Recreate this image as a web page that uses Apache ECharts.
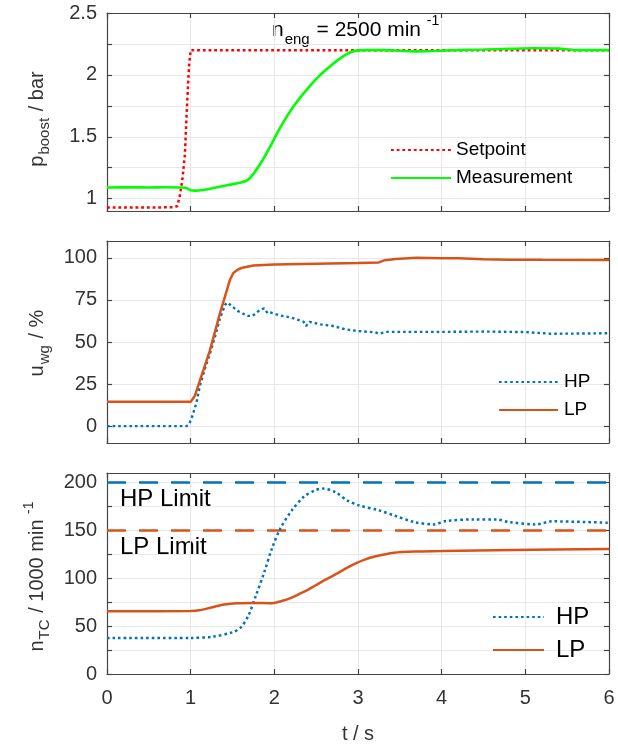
<!DOCTYPE html>
<html>
<head>
<meta charset="utf-8">
<title>Boost pressure, wastegate and turbocharger speed response</title>
<script src="https://cdn.jsdelivr.net/npm/echarts@6/dist/echarts.min.js"></script>
<style>
  html, body { margin: 0; padding: 0; background: #fff; }
  #chart { width: 618px; height: 745px; }
</style>
</head>
<body>
<div id="chart"></div>
<script>
// ---- Boost pressure (bar) ----
const tSetpoint = [0, 0.4, 0.8, 0.84, 0.87, 0.9, 0.93, 0.96, 0.98, 1.0, 2.0, 3.0, 4.0, 5.0, 6.0];
const pSetpoint = [0.928, 0.928, 0.93, 0.94, 1.02, 1.15, 1.35, 1.8, 2.07, 2.2, 2.2, 2.2, 2.2, 2.2, 2.2];

const tMeasure = [0, 0.3, 0.5, 0.7, 0.9, 0.95, 1.0, 1.05, 1.15, 1.3, 1.45, 1.6, 1.68, 1.75, 1.85, 1.95,
  2.05, 2.15, 2.25, 2.35, 2.45, 2.55, 2.65, 2.75, 2.85, 2.95, 3.1, 3.3, 3.5, 3.7, 3.9, 4.2, 4.5,
  4.8, 5.1, 5.4, 5.6, 6.0];
const pMeasure = [1.09, 1.092, 1.09, 1.092, 1.09, 1.085, 1.068, 1.065, 1.07, 1.09, 1.11, 1.13, 1.15, 1.2,
  1.3, 1.42, 1.55, 1.665, 1.765, 1.85, 1.93, 2.0, 2.06, 2.115, 2.162, 2.192, 2.2, 2.2, 2.195, 2.19,
  2.193, 2.2, 2.205, 2.21, 2.215, 2.212, 2.2, 2.2];

// ---- Wastegate positions (%) ----
const tWgHP = [0, 0.95, 0.98, 1.02, 1.07, 1.11, 1.17, 1.23, 1.29, 1.35, 1.41, 1.44, 1.5, 1.56, 1.62,
  1.68, 1.74, 1.8, 1.85, 1.88, 1.92, 1.96, 2.05, 2.2, 2.35, 2.38, 2.42, 2.55, 2.7, 2.85, 3.0, 3.2,
  3.25, 3.35, 3.7, 4.0, 4.5, 5.0, 5.3, 5.6, 6.0];
const uWgHP = [0, 0, 1, 6, 14, 24, 34, 43, 53, 64, 72, 73.5, 71, 68.5, 67, 65.5, 65.5, 68, 69.5, 70,
  67, 67.5, 66, 64.5, 62, 59.5, 62, 60.5, 59.5, 57.5, 56.5, 55.8, 55, 56, 56, 56, 56.2, 55.9, 54.9,
  55, 55.2];

const tWgLP = [0, 1.0, 1.05, 1.11, 1.17, 1.23, 1.29, 1.35, 1.41, 1.47, 1.51, 1.57, 1.63, 1.75, 2.0,
  2.5, 3.0, 3.25, 3.32, 3.45, 3.7, 4.0, 4.2, 4.5, 4.8, 5.2, 6.0];
const uWgLP = [14.5, 14.5, 18, 27, 36, 45, 56, 67, 77, 87, 91, 93.2, 94.3, 95.5, 96, 96.5, 97, 97.3,
  98.6, 99.3, 100, 99.8, 99.8, 99.2, 98.9, 98.8, 98.7];

// ---- Turbocharger speeds (1000 min^-1) ----
const tTcHP = [0, 1.0, 1.26, 1.5, 1.6, 1.69, 1.78, 1.88, 1.97, 2.07, 2.21, 2.35, 2.49, 2.58, 2.73,
  2.87, 3.01, 3.25, 3.43, 3.67, 3.91, 4.05, 4.38, 4.66, 4.8, 5.13, 5.32, 6.0];
const nTcHP = [37.5, 37.7, 39, 43.6, 48.8, 61, 82, 106.4, 130.8, 151.8, 171, 185, 192, 193.7, 190,
  181.4, 176.2, 171, 165.7, 158.8, 156.3, 159.8, 161.5, 161.5, 158.8, 156.3, 159.5, 158];

const tTcLP = [0, 1.0, 1.1, 1.26, 1.4, 1.55, 1.74, 1.97, 2.11, 2.2, 2.3, 2.4, 2.49, 2.6, 2.73, 2.85,
  2.96, 3.08, 3.2, 3.43, 3.67, 4.0, 4.85, 6.0];
const nTcLP = [65.5, 65.8, 66.5, 69.8, 72.5, 74, 74.3, 74, 76.8, 79.5, 83.7, 88, 92.5, 98, 104, 110,
  115, 119.5, 122.8, 126.7, 128, 128.4, 129.5, 130.5];

const tLimit = [0, 6];
const nLimitHP = [200, 200];
const nLimitLP = [150, 150];

// ---- Axis ranges and ticks ----
const timeTicks = [0, 1, 2, 3, 4, 5, 6];
const pRange = [0.9, 2.5];
const pTicks = [1, 1.25, 1.5, 1.75, 2, 2.25, 2.5];
const pLabels = [1, 1.5, 2, 2.5];
const uRange = [-10, 110];
const uTicks = [0, 25, 50, 75, 100];
const nRange = [0, 210];
const nTicks = [0, 25, 50, 75, 100, 125, 150, 175, 200];
const nLabels = [0, 50, 100, 150, 200];

const zip = (xs, ys) => xs.map((x, i) => [x, ys[i]]);

const FONT = 'Liberation Sans';
const TEXT = '#333333';
const AXIS = '#454545';
const GRIDC = '#e8e8e8';
const BLUE = '#0072bd';
const ORANGE = '#d95319';

const gridDefs = [
  { left: 107, right: 9, top: 13, height: 198 },
  { left: 107, right: 9, top: 241, height: 202 },
  { left: 107, right: 9, top: 473, height: 201 }
];

const nameRich = {
  m: { fontSize: 20, lineHeight: 30, fontFamily: FONT, color: TEXT },
  s: { fontSize: 15, lineHeight: 15, verticalAlign: 'bottom', fontFamily: FONT, color: TEXT, padding: [0, 1, 0, 1] },
  p: { fontSize: 14, lineHeight: 14, verticalAlign: 'top', fontFamily: FONT, color: TEXT }
};

function xAxisPair(gridIndex, withLabels) {
  const bottom = {
    type: 'value', gridIndex, min: timeTicks[0], max: timeTicks[timeTicks.length - 1], interval: 1,
    position: 'bottom',
    axisLine: { show: true, onZero: false, lineStyle: { color: AXIS, width: 1.2 } },
    axisTick: { show: true, inside: true, length: 5, lineStyle: { color: AXIS, width: 1.2 } },
    axisLabel: { show: withLabels, margin: 14, fontSize: 20, fontFamily: FONT, color: TEXT },
    splitLine: { show: true, lineStyle: { color: GRIDC, width: 1 } }
  };
  if (withLabels) {
    bottom.name = 't / s';
    bottom.nameLocation = 'middle';
    bottom.nameGap = 50;
    bottom.nameTextStyle = { fontSize: 20, fontFamily: FONT, color: TEXT };
  }
  const top = {
    type: 'value', gridIndex, min: timeTicks[0], max: timeTicks[timeTicks.length - 1], interval: 1,
    position: 'top',
    axisLine: { show: true, onZero: false, lineStyle: { color: AXIS, width: 1.2 } },
    axisTick: { show: true, inside: true, length: 5, lineStyle: { color: AXIS, width: 1.2 } },
    axisLabel: { show: false },
    splitLine: { show: false }
  };
  return [bottom, top];
}

function yAxisOf(gridIndex, range, ticks, labels, position, name, namePad) {
  const ax = {
    type: 'value', gridIndex, min: range[0], max: range[1], position,
    axisLine: { show: true, onZero: false, lineStyle: { color: AXIS, width: 1.2 } },
    axisTick: { show: true, inside: true, length: 5, customValues: ticks, lineStyle: { color: AXIS, width: 1.2 } },
    axisLabel: position === 'left'
      ? { show: true, margin: 10, fontSize: 20, fontFamily: FONT, color: TEXT, customValues: labels }
      : { show: false },
    splitLine: position === 'left'
      ? { show: true, customValues: labels, lineStyle: { color: GRIDC, width: 1 } }
      : { show: false }
  };
  if (name) {
    ax.name = name;
    ax.nameLocation = 'middle';
    ax.nameRotate = 90;
    ax.nameGap = 55;
    ax.nameTextStyle = { fontSize: 20, fontFamily: FONT, color: TEXT, rich: nameRich, padding: namePad || 0 };
  }
  return ax;
}

const xAxes = [].concat(xAxisPair(0, false), xAxisPair(1, false), xAxisPair(2, true));
const yAxes = [
  yAxisOf(0, pRange, pTicks, pLabels, 'left', '{m|p}{s|boost}{m| / bar}', [0, 14, 0, 0]),
  yAxisOf(0, pRange, pTicks, pLabels, 'right', null),
  yAxisOf(1, uRange, uTicks, uTicks, 'left', '{m|u}{s|wg}{m| / %}', [0, 2, 0, 0]),
  yAxisOf(1, uRange, uTicks, uTicks, 'right', null),
  yAxisOf(2, nRange, nTicks, nLabels, 'left', '{m|n}{s|TC}{m| / 1000 min }{p|-1}', [0, 6, 0, 0]),
  yAxisOf(2, nRange, nTicks, nLabels, 'right', null)
];

function line(name, xi, yi, data, color, width, dash, extra) {
  return Object.assign({
    name, type: 'line', xAxisIndex: xi, yAxisIndex: yi, data,
    symbol: 'none', showSymbol: false, animation: false, z: 3,
    lineStyle: { color, width, type: dash || 'solid', cap: 'butt' },
    itemStyle: { color }
  }, extra || {});
}

const DOT = [2.6, 3];

const series = [
  line('Setpoint', 0, 0, zip(tSetpoint, pSetpoint), '#ff0000', 2.5, [2.8, 2.9]),
  line('Measurement', 0, 0, zip(tMeasure, pMeasure), '#00ff00', 2.6, null, { smooth: 0.25 }),
  line('HP', 2, 2, zip(tWgHP, uWgHP), BLUE, 2.4, DOT),
  line('LP', 2, 2, zip(tWgLP, uWgLP), ORANGE, 2.5, null),
  line('HP Limit', 4, 4, zip(tLimit, nLimitHP), BLUE, 2.6, [19, 13]),
  line('LP Limit', 4, 4, zip(tLimit, nLimitLP), ORANGE, 2.6, [19, 13]),
  line('HP', 4, 4, zip(tTcHP, nTcHP), BLUE, 2.5, DOT, { smooth: 0.3 }),
  line('LP', 4, 4, zip(tTcLP, nTcLP), ORANGE, 2.5, null, { smooth: 0.3 })
];

function legendBox(names, left, top, fontSize, lineH, gap, itemWidth, textPad) {
  return {
    data: names, orient: 'vertical', left, top, itemGap: gap, padding: 0,
    itemWidth, itemHeight: 14, selectedMode: false,
    itemStyle: { opacity: 0 },
    textStyle: { fontSize, fontFamily: FONT, color: '#000', lineHeight: lineH, padding: [0, 0, 0, textPad] }
  };
}

const option = {
  backgroundColor: '#ffffff',
  animation: false,
  grid: gridDefs,
  xAxis: xAxes,
  yAxis: yAxes,
  legend: [
    legendBox(['Setpoint', 'Measurement'], 390, 140, 19, 20, 8, 60, 0),
    legendBox(['HP', 'LP'], 498, 372, 19, 20, 8, 59, 1),
    legendBox(['HP', 'LP'], 492, 605, 24, 24, 9, 51, 7)
  ],
  graphic: [
    {
      type: 'text', left: 272, top: 14, silent: true,
      style: {
        text: '{m|n}{s|eng}{m| = 2500 min }{p|-1}',
        rich: {
          m: { fontSize: 21, lineHeight: 33, fontFamily: FONT, fill: '#000' },
          s: { fontSize: 15, lineHeight: 15, verticalAlign: 'bottom', fontFamily: FONT, fill: '#000', padding: [0, 1, 0, 1] },
          p: { fontSize: 14, lineHeight: 14, verticalAlign: 'top', fontFamily: FONT, fill: '#000' }
        }
      }
    },
    {
      type: 'text', left: 120, top: 487, silent: true,
      style: { text: 'HP Limit', fontSize: 24, fontFamily: FONT, fill: '#000' }
    },
    {
      type: 'text', left: 120, top: 535, silent: true,
      style: { text: 'LP Limit', fontSize: 24, fontFamily: FONT, fill: '#000' }
    }
  ],
  series
};

const chart = echarts.init(document.getElementById('chart'), null, { renderer: 'canvas' });
chart.setOption(option);
</script>
</body>
</html>
